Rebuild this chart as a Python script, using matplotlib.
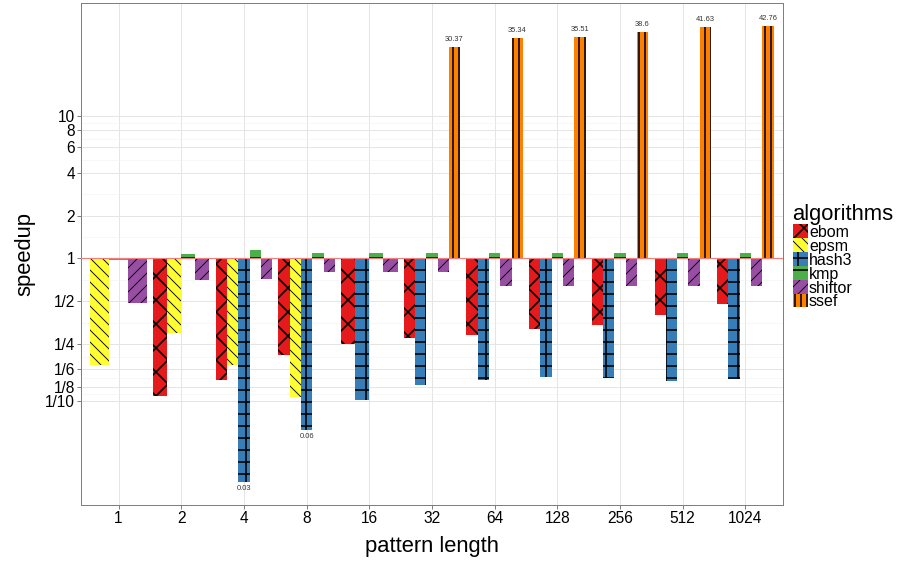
import numpy as np
import matplotlib
matplotlib.use("Agg")
import matplotlib.pyplot as plt
from matplotlib.patches import Rectangle
from matplotlib.ticker import NullFormatter

nan = np.nan

pattern_lengths = ["1", "2", "4", "8", "16", "32", "64", "128", "256", "512", "1024"]
algorithms = ["ebom", "epsm", "hash3", "kmp", "shiftor", "ssef"]

ebom = [nan, 0.108, 0.14, 0.21, 0.25, 0.275, 0.29, 0.32, 0.34, 0.40, 0.48]
epsm = [0.18, 0.30, 0.18, 0.107, nan, nan, nan, nan, nan, nan, nan]
hash3 = [nan, nan, 0.027, 0.063, 0.101, 0.129, 0.14, 0.147, 0.145, 0.138, 0.142]
kmp = [0.97, 1.08, 1.14, 1.1, 1.1, 1.1, 1.1, 1.1, 1.1, 1.1, 1.1]
shiftor = [0.49, 0.71, 0.72, 0.81, 0.81, 0.81, 0.64, 0.64, 0.64, 0.64, 0.64]
ssef = [nan, nan, nan, nan, nan, 30.37, 35.34, 35.51, 38.6, 41.63, 42.76]

series = [ebom, epsm, hash3, kmp, shiftor, ssef]
colors = ["#E41A1C", "#FFFF33", "#377EB8", "#4DAF4A", "#984EA3", "#FF7F00"]
hatches = ["x", "\\\\", "+", "-", "//", "||"]
hatch_lw = [1.6, 0.9, 1.6, 1.6, 0.9, 1.6]

ytick_vals = [1/10, 1/8, 1/6, 1/4, 1/2, 1, 2, 4, 6, 8, 10]
ytick_labels = ["1/10", "1/8", "1/6", "1/4", "1/2", "1", "2", "4", "6", "8", "10"]

plt.rcParams["font.family"] = ["Liberation Sans", "DejaVu Sans"]
plt.rcParams["hatch.linewidth"] = 1.6

DPI = 72
W, H = 901, 563
fig = plt.figure(figsize=(W / DPI, H / DPI), dpi=DPI)
ax = fig.add_axes([81 / W, 1 - 505 / H, (783 - 81) / W, (505 - 3) / H])
ax.set_yscale("log", base=2)


def set_hlw(p, lw):
    # per-patch hatch width if this matplotlib supports it
    if hasattr(p, "set_hatch_linewidth"):
        p.set_hatch_linewidth(lw)


# dodge only the bars that exist in each group (like ggplot position_dodge)
for gi in range(len(pattern_lengths)):
    present = [k for k in range(len(algorithms)) if not np.isnan(series[k][gi])]
    w = 0.9 / len(present)
    for j, k in enumerate(present):
        v = series[k][gi]
        x = gi + 1 - 0.45 + (j + 0.5) * w
        bars = ax.bar(x, v - 1, bottom=1, width=w, color=colors[k], hatch=hatches[k],
                      edgecolor="black", linewidth=0, zorder=2)
        for b in bars:
            set_hlw(b, hatch_lw[k])
        if v > 10 or v < 0.1:
            lab = "{:g}".format(round(v, 2))
            if v > 10:
                ax.annotate(lab, (x, v), xytext=(0, 4), textcoords="offset points",
                            ha="center", va="bottom", fontsize=7.5, color="#333333")
            else:
                ax.annotate(lab, (x, v), xytext=(0, -3), textcoords="offset points",
                            ha="center", va="top", fontsize=7.5, color="#333333")

ax.axhline(1, color="#F08080", linewidth=1.2, zorder=3)

# limits with ggplot-like expansion
lo = np.log2(np.nanmin([np.nanmin(s) for s in series]))
hi = np.log2(np.nanmax([np.nanmax(s) for s in series]))
pad = (hi - lo) * 0.05
ax.set_ylim(2 ** (lo - pad), 2 ** (hi + pad))
ax.set_xlim(0.4, len(pattern_lengths) + 0.6)

ax.set_yticks(ytick_vals)
ax.set_yticklabels(ytick_labels)
minor = [np.sqrt(a * b) for a, b in zip(ytick_vals[:-1], ytick_vals[1:])]
ax.set_yticks(minor, minor=True)
ax.yaxis.set_minor_formatter(NullFormatter())
ax.set_xticks(range(1, len(pattern_lengths) + 1))
ax.set_xticklabels(pattern_lengths)

ax.grid(True, which="major", color="#E5E5E5", linewidth=1.0, zorder=0)
ax.grid(True, which="minor", axis="y", color="#F2F2F2", linewidth=0.6, zorder=0)
ax.set_axisbelow(True)
ax.tick_params(which="major", length=4, width=1, color="#7F7F7F", labelsize=15.5,
               labelcolor="black", pad=2)
ax.tick_params(which="minor", length=0)
for sp in ax.spines.values():
    sp.set_color("#7F7F7F")
    sp.set_linewidth(1)

ax.set_xlabel("pattern length", fontsize=22, labelpad=10)
ax.set_ylabel("speedup", fontsize=22)
ax.yaxis.set_label_coords((35 - 81) / 702, 0.5)

# legend drawn by hand (ggplot-style tight keys), positions in figure pixels
fig.text(792 / W, 1 - 220 / H, "algorithms", fontsize=22, ha="left", va="baseline")
key_top, key_h, key_w = 224, 13.9, 15
for i, (name, c, h) in enumerate(zip(algorithms, colors, hatches)):
    y0 = key_top + i * key_h
    r = Rectangle((793 / W, 1 - (y0 + key_h) / H), key_w / W, key_h / H,
                  transform=fig.transFigure, facecolor=c, hatch=h,
                  edgecolor="black", linewidth=0)
    set_hlw(r, hatch_lw[i])
    fig.add_artist(r)
    fig.text(809 / W, 1 - (y0 + key_h - 1) / H, name, fontsize=16,
             ha="left", va="baseline")

fig.savefig("out.png", dpi=DPI)
